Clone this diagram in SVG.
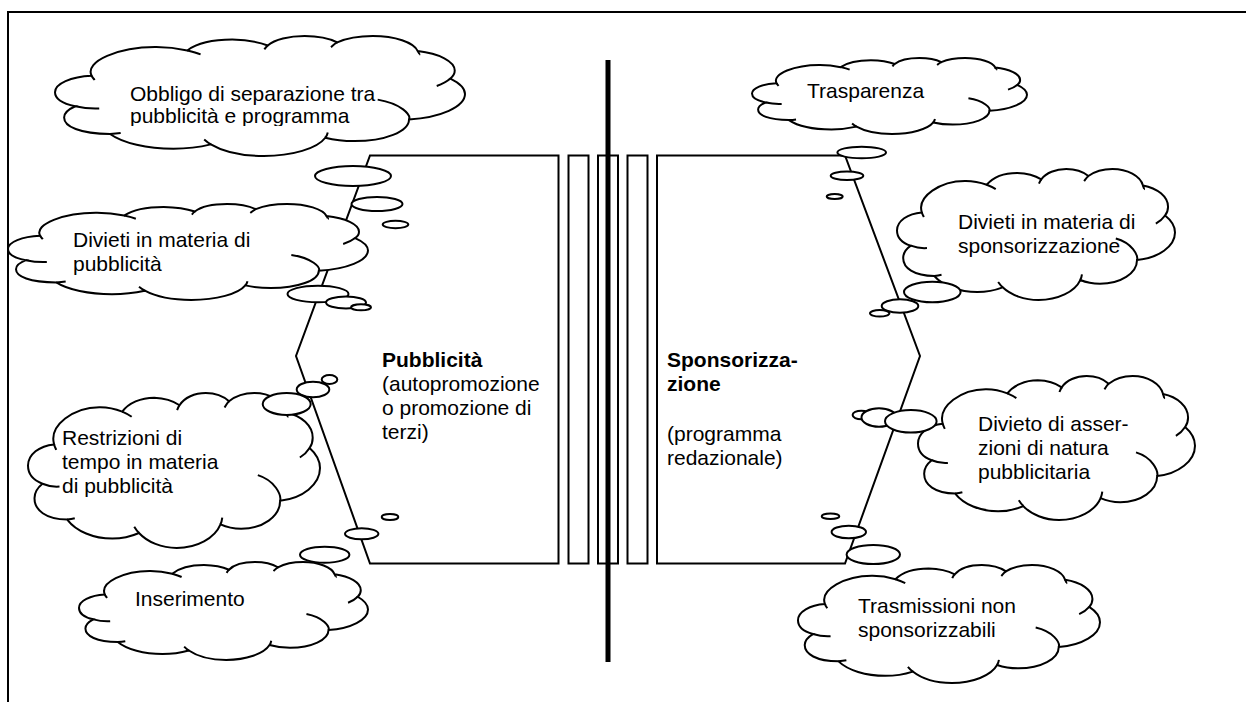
<svg xmlns="http://www.w3.org/2000/svg" xmlns:xlink="http://www.w3.org/1999/xlink" width="1246" height="702" viewBox="0 0 1246 702">
<style>
.ln{fill:none;stroke:#000;stroke-width:2}
.sh{fill:#fff;stroke:#000;stroke-width:2}
.cl{fill:#fff;stroke:#000;stroke-width:2;vector-effect:non-scaling-stroke}
.cr{fill:none;stroke:#000;stroke-width:2;vector-effect:non-scaling-stroke}
.bb{fill:#fff;stroke:#000;stroke-width:2}
text{font-family:"Liberation Sans",Arial,sans-serif;font-size:21px;fill:#000}
.b{font-weight:bold}
</style>
<defs>
<symbol id="cloud" viewBox="0 0 21600 21600" preserveAspectRatio="none" overflow="visible">
<path class="cl" d="M1930,7160 C1530,4490 3400,1970 5270,1970 C5860,1950 6470,2210 6970,2600 C7450,1390 8340,650 9340,650 C10004,690 10710,1050 11210,1700 C11570,630 12330,0 13150,0 C13840,0 14470,460 14870,1160 C15330,440 16020,0 16740,0 C17910,0 18900,1130 19110,2710 C20240,3150 21060,4580 21060,6220 C21060,6720 21000,7200 20830,7660 C21310,8460 21600,9450 21600,10460 C21600,12750 20310,14680 18650,15010 C18650,17200 17370,18920 15770,18920 C15220,18920 14700,18710 14240,18310 C13820,20240 12490,21600 11000,21600 C9890,21600 8840,20790 8210,19510 C7620,20000 6930,20290 6240,20290 C4850,20290 3570,19280 2900,17640 C1300,17600 480,16300 480,14660 C480,13900 690,13210 1070,12640 C380,12160 0,11210 0,10120 C0,8590 840,7330 1930,7160 Z"/>
<path class="cr" d="M1930,7160 C1950,7410 2040,7690 2090,7920 M6970,2600 C7200,2790 7480,3050 7670,3310 M11210,1700 C11130,1910 11080,2160 11030,2400 M14870,1160 C14720,1400 14640,1720 14540,2010 M19110,2710 C19130,2890 19230,3290 19190,3380 M20830,7660 C20660,8170 20430,8620 20110,8990 M18660,15010 C18740,14200 18280,12200 17000,11450 M14240,18310 C14320,17980 14350,17680 14370,17360 M8220,19510 C8060,19250 7960,18950 7860,18640 M2900,17640 C3090,17600 3280,17540 3460,17450 M1070,12640 C1400,12900 1780,13130 2330,13040"/>
</symbol>
<clipPath id="clipObbligo"><rect x="55" y="60" width="400" height="66"/></clipPath>
</defs>

<g id="frame">
<path class="ln" d="M8,702 V12 H1246"/>
</g>

<g id="pubblicita">
<polygon class="sh" points="370,155.5 558.5,155.5 558.5,563.5 370,563.5 296,356"/>
<text class="b" x="382" y="367">Pubblicità</text>
<text x="382" y="391">(autopromozione</text>
<text x="382" y="415">o promozione di</text>
<text x="382" y="439">terzi)</text>
</g>

<g id="bars">
<rect class="sh" x="568.5" y="155.5" width="20" height="408"/>
<rect class="sh" x="598" y="155.5" width="20" height="408"/>
<rect class="sh" x="627.5" y="155.5" width="20" height="408"/>
</g>

<g id="separator">
<line x1="608" y1="60" x2="608" y2="662" stroke="#000" stroke-width="5"/>
</g>

<g id="sponsorizzazione">
<polygon class="sh" points="657,155.5 845,155.5 920,356 845,563.5 657,563.5"/>
<text class="b" x="667" y="367">Sponsorizza-</text>
<text class="b" x="667" y="391">zione</text>
<text x="667" y="441">(programma</text>
<text x="667" y="465">redazionale)</text>
</g>

<g id="cloud-obbligo">
<use xlink:href="#cloud" x="55" y="36" width="410" height="120"/>
<g clip-path="url(#clipObbligo)">
<text x="130" y="101">Obbligo di separazione tra</text>
<text x="130" y="123">pubblicità e programma</text>
</g>
</g>

<g id="cloud-divieti-pubblicita">
<use xlink:href="#cloud" x="8" y="204" width="360" height="96"/>
<text x="73" y="247">Divieti in materia di</text>
<text x="73" y="271">pubblicità</text>
</g>

<g id="cloud-restrizioni">
<use xlink:href="#cloud" x="28" y="393" width="292" height="155"/>
<text x="62" y="445">Restrizioni di</text>
<text x="62" y="469">tempo in materia</text>
<text x="62" y="493">di pubblicità</text>
</g>

<g id="cloud-inserimento">
<use xlink:href="#cloud" x="79" y="562" width="289" height="98"/>
<text x="135" y="606">Inserimento</text>
</g>

<g id="cloud-trasparenza">
<use xlink:href="#cloud" x="752" y="58" width="275" height="76"/>
<text x="807" y="98">Trasparenza</text>
</g>

<g id="cloud-divieti-sponsorizzazione">
<use xlink:href="#cloud" x="897" y="169" width="278" height="131"/>
<text x="958" y="229">Divieti in materia di</text>
<text x="958" y="253">sponsorizzazione</text>
</g>

<g id="cloud-divieto-asserzioni">
<use xlink:href="#cloud" x="918" y="376" width="277" height="144"/>
<text x="978" y="431">Divieto di asser-</text>
<text x="978" y="455">zioni di natura</text>
<text x="978" y="479">pubblicitaria</text>
</g>

<g id="cloud-trasmissioni">
<use xlink:href="#cloud" x="798" y="565" width="302" height="118"/>
<text x="858" y="613">Trasmissioni non</text>
<text x="858" y="637">sponsorizzabili</text>
</g>

<g id="connectors">
<ellipse class="bb" cx="353" cy="176" rx="38" ry="10"/>
<ellipse class="bb" cx="377" cy="204" rx="25.5" ry="7"/>
<ellipse class="bb" cx="395.5" cy="224.5" rx="12.8" ry="3.7"/>
<ellipse class="bb" cx="318" cy="294" rx="30.5" ry="8.3"/>
<ellipse class="bb" cx="346" cy="302.5" rx="20" ry="6"/>
<ellipse class="bb" cx="361" cy="307.3" rx="10" ry="3"/>
<ellipse class="bb" cx="329.5" cy="379.5" rx="7.8" ry="4.5"/>
<ellipse class="bb" cx="313" cy="389.5" rx="16.3" ry="7.8"/>
<ellipse class="bb" cx="286.7" cy="404" rx="24" ry="11"/>
<ellipse class="bb" cx="390" cy="517" rx="8.3" ry="3"/>
<ellipse class="bb" cx="361.7" cy="533.8" rx="16.7" ry="5.5"/>
<ellipse class="bb" cx="324.7" cy="554.7" rx="24.7" ry="8"/>
<ellipse class="bb" cx="861.7" cy="152.5" rx="24.3" ry="5.8"/>
<ellipse class="bb" cx="847" cy="175.8" rx="16.3" ry="4.2"/>
<ellipse class="bb" cx="834.7" cy="196.5" rx="8" ry="2.5"/>
<ellipse class="bb" cx="932.3" cy="292" rx="28.3" ry="10.3"/>
<ellipse class="bb" cx="900" cy="306" rx="18.3" ry="6.7"/>
<ellipse class="bb" cx="879.7" cy="313.3" rx="9.7" ry="3.3"/>
<ellipse class="bb" cx="861.3" cy="415" rx="8.7" ry="4.3"/>
<ellipse class="bb" cx="879" cy="417.5" rx="17.5" ry="9.2"/>
<ellipse class="bb" cx="910.8" cy="421.3" rx="25.8" ry="11.3"/>
<ellipse class="bb" cx="830.5" cy="516.2" rx="8.8" ry="2.8"/>
<ellipse class="bb" cx="848.8" cy="532" rx="17.2" ry="6.3"/>
<ellipse class="bb" cx="873.3" cy="554.5" rx="26.7" ry="9.5"/>
</g>
</svg>
